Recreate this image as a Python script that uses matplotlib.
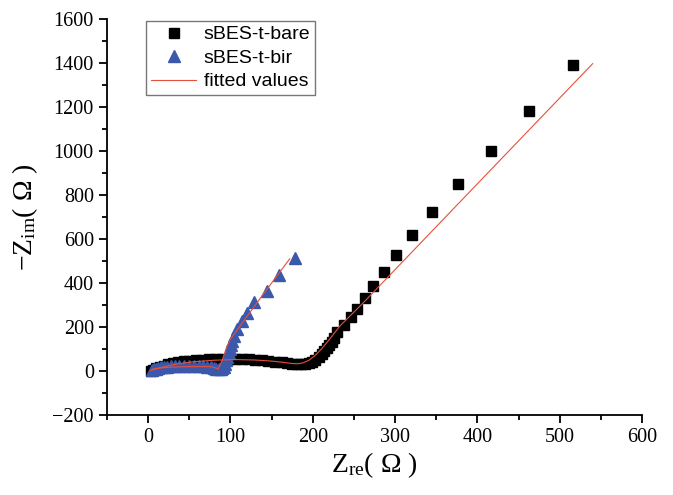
import matplotlib

matplotlib.use("Agg")
import matplotlib.pyplot as plt
from matplotlib.ticker import MultipleLocator

# sBES-t-bare: puntos medidos (Z_re, -Z_im)
bare_x = [3, 6, 10, 14, 19, 24, 30, 36, 43, 50, 58, 66, 74, 82, 90, 98, 106, 114,
          122, 130, 138, 146, 154, 162, 169, 175, 181, 186, 191, 195, 199, 203,
          207, 211, 214, 217, 220, 223, 226, 230, 238, 246, 254, 263, 273, 286,
          301, 321, 345, 377, 416, 463, 516]
bare_y = [2, 6, 12, 18, 24, 30, 35, 40, 44, 47, 50, 52, 53, 54, 55, 55, 55, 54,
          53, 51, 49, 46, 43, 40, 37, 34, 32, 31, 33, 37, 43, 52, 62, 76, 90,
          104, 118, 134, 152, 177, 209, 245, 282, 332, 386, 450, 527, 618, 723,
          850, 1000, 1182, 1391]

# sBES-t-bir
bir_x = [5, 7, 9, 12, 15, 19, 23, 28, 33, 38, 44, 50, 56, 62, 67, 72, 76, 80, 83,
         86, 88, 90, 92, 93, 95, 96, 98, 99, 101, 102, 104, 108, 114, 120, 128,
         144, 159, 178]
bir_y = [4, 8, 11, 14, 16, 18, 20, 21, 22, 23, 23, 23, 23, 22, 21, 19, 17, 14, 11,
         9, 9, 12, 20, 32, 48, 64, 82, 100, 118, 136, 159, 191, 227, 264, 314,
         364, 436, 514]

# curvas ajustadas
fit_bare_x = [3, 10, 20, 35, 55, 80, 105, 130, 150, 165, 175, 182, 188, 195, 202,
              210, 220, 233, 260, 300, 400, 540]
fit_bare_y = [3, 10, 20, 32, 42, 49, 52, 50, 45, 39, 34, 33, 37, 48, 68, 98, 142,
              205, 305, 461, 851, 1397]
fit_bir_x = [6, 15, 30, 50, 75, 82, 85, 90, 95, 100, 139, 172]
fit_bir_y = [9, 14, 18, 20, 20, 14, 9, 50, 105, 145, 345, 510]

plt.rcParams["mathtext.fontset"] = "custom"
plt.rcParams["mathtext.rm"] = "Liberation Serif"
plt.rcParams["mathtext.it"] = "Liberation Serif"

SERIF = ["Liberation Serif", "DejaVu Sans"]

fig = plt.figure(figsize=(6.73, 4.95), dpi=100)
ax = fig.add_axes([0.159, 0.1616, 0.795, 0.80])

ax.plot(bare_x, bare_y, "s", color="black", ms=6.5, label="sBES-t-bare", zorder=2)
ax.plot(bir_x, bir_y, "^", color="#3c58ab", ms=8, label="sBES-t-bir", zorder=3)
ax.plot(fit_bare_x, fit_bare_y, "-", color="#e8503a", lw=0.8, label="fitted values", zorder=4)
ax.plot(fit_bir_x, fit_bir_y, "-", color="#e8503a", lw=0.8, zorder=4)

ax.set_xlim(-50, 600)
ax.set_ylim(-200, 1600)
ax.xaxis.set_major_locator(MultipleLocator(100))
ax.xaxis.set_minor_locator(MultipleLocator(50))
ax.yaxis.set_major_locator(MultipleLocator(200))
ax.yaxis.set_minor_locator(MultipleLocator(100))

for side in ("top", "right"):
    ax.spines[side].set_visible(False)
for side in ("left", "bottom"):
    ax.spines[side].set_linewidth(1.3)
ax.tick_params(which="major", direction="out", length=6, width=1.3)
ax.tick_params(which="minor", direction="out", length=3.5, width=1.3)
for lab in ax.get_xticklabels() + ax.get_yticklabels():
    lab.set_family(SERIF)
    lab.set_fontsize(14.5)

ax.set_xlabel(r"$\mathrm{Z}_{\mathrm{re}}$( Ω )", family=SERIF, fontsize=20, labelpad=2)
ax.set_ylabel(r"$-\mathrm{Z}_{\mathrm{im}}$( Ω )", family=SERIF, fontsize=20, labelpad=9)

leg = ax.legend(loc="upper left", bbox_to_anchor=(0.07, 1.0),
                prop={"family": "Liberation Sans", "size": 14},
                frameon=True, fancybox=False, edgecolor="#555555",
                handlelength=2.3, borderpad=0.25, labelspacing=0.3, handletextpad=0.4,
                borderaxespad=0.1)
leg.get_frame().set_linewidth(1.0)

fig.savefig("out.png", dpi=100)
